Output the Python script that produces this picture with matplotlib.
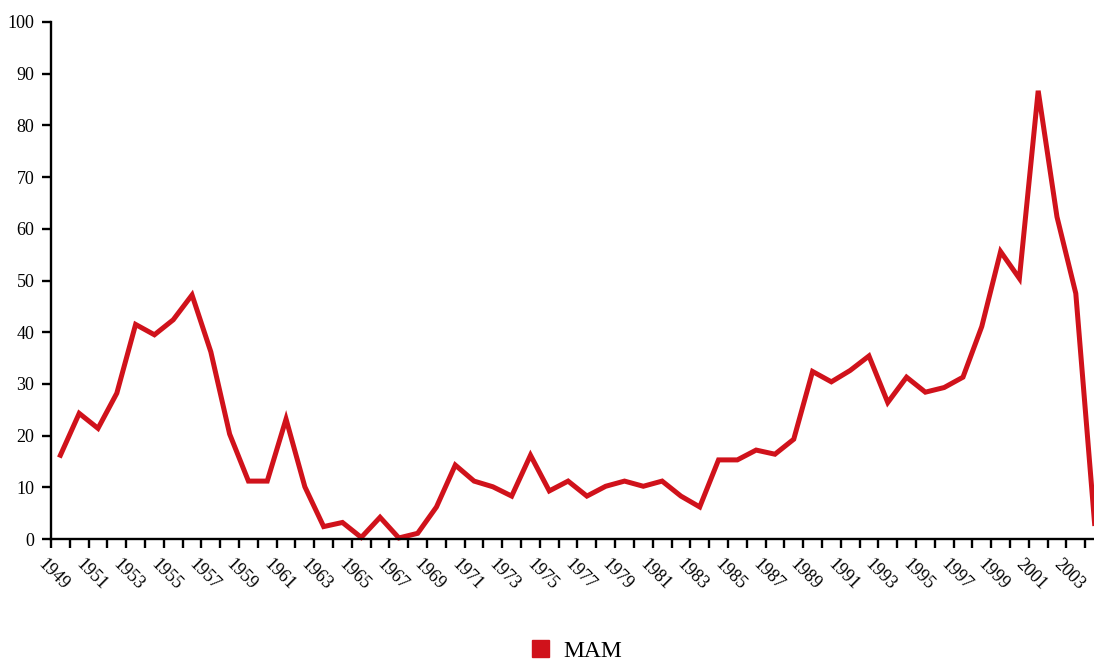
import numpy as np
import matplotlib
matplotlib.use("Agg")
import matplotlib.pyplot as plt
import matplotlib.transforms as mtransforms
from matplotlib.patches import Patch

# MAM series
years = list(range(1949, 2005))
values = [16.2, 24.3, 21.4, 28.2, 41.5, 39.5, 42.4, 47.2, 36.2, 20.3,
          11.2, 11.2, 23.2, 10.1, 2.4, 3.2, 0.3, 4.2, 0.2, 1.1,
          6.2, 14.3, 11.2, 10.1, 8.3, 16.2, 9.3, 11.2, 8.3, 10.2,
          11.2, 10.2, 11.2, 8.3, 6.2, 15.3, 15.3, 17.2, 16.4, 19.3,
          32.4, 30.4, 32.6, 35.4, 26.4, 31.3, 28.4, 29.3, 31.3, 41.1,
          55.6, 50.4, 86.7, 62.3, 47.5, 3.0]
series_name = "MAM"
y_ticks = [0, 10, 20, 30, 40, 50, 60, 70, 80, 90, 100]

red = "#d0121b"
plt.rcParams['font.family'] = ['Liberation Serif', 'DejaVu Serif']

fig = plt.figure(figsize=(10.94, 6.62), dpi=100)
# axes run a little past the right edge, as in the reference
ax = fig.add_axes([51 / 1094, 123 / 662, 1053 / 1094, 517 / 662])

x = np.arange(len(years))
ax.plot(x, values, color=red, linewidth=3.6, solid_joinstyle='miter', clip_on=False)

ax.set_xlim(-0.5, len(years) - 0.5)
ax.set_ylim(0, 100)

for s in ['top', 'right']:
    ax.spines[s].set_visible(False)
for s in ['left', 'bottom']:
    ax.spines[s].set_linewidth(1.7)

# ticks on category boundaries, labels every second year
ax.set_xticks(np.arange(-0.5, len(years), 1))
ax.set_xticklabels([])
ax.tick_params(axis='x', which='major', length=6.5, width=1.7, direction='out')
lab_pos = x[::2]
lab_txt = [str(y) for y in years[::2]]
ax.set_xticks(lab_pos, lab_txt, minor=True)
ax.tick_params(axis='x', which='minor', length=0, pad=12, labelsize=13)
offset = mtransforms.ScaledTranslation(-7 / 100, 0, fig.dpi_scale_trans)
for lab in ax.xaxis.get_minorticklabels():
    lab.set_rotation(-45)
    lab.set_ha('center')
    lab.set_va('top')
    lab.set_transform(lab.get_transform() + offset)

ax.set_yticks(y_ticks)
ax.tick_params(axis='y', length=6.5, width=1.7, direction='out', pad=5.5, labelsize=13)

fig.legend(handles=[Patch(color=red)], labels=[series_name], loc='center',
           bbox_to_anchor=(577 / 1094, 1 - 651 / 662), frameon=False, fontsize=17,
           handlelength=0.7, handleheight=0.7, handletextpad=0.6)

fig.savefig('out.png', dpi=100)
